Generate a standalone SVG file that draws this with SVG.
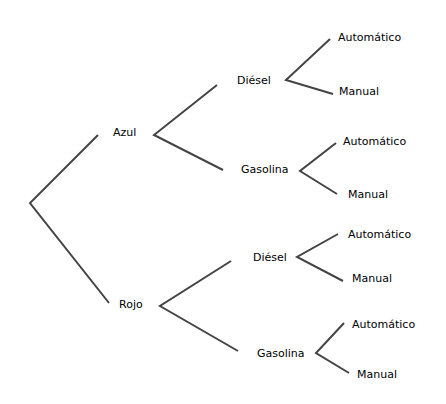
<svg xmlns="http://www.w3.org/2000/svg" width="446" height="404" viewBox="0 0 446 404">
<style>
.e{stroke:#444;stroke-width:2;fill:none;stroke-linecap:butt}
text{font-family:"DejaVu Sans",sans-serif;font-size:11px;fill:#000}
</style>
<rect width="446" height="404" fill="#fff"/>
<g id="connectors">
<path class="e" d="M98,135 L30,203 L109,303"/>
<path class="e" d="M217,85 L154,135 L223,170"/>
<path class="e" d="M231,261 L160,306 L238,351"/>
<path class="e" d="M330,39 L286,80 L333,94"/>
<path class="e" d="M336,143 L300,171 L337,194"/>
<path class="e" d="M338,234 L297,257 L343,281"/>
<path class="e" d="M344,323 L316,353 L349,373"/>
</g>
<g id="azul"><text x="113" y="136">Azul</text></g>
<g id="rojo"><text x="119" y="308">Rojo</text></g>
<g id="azul-diesel"><text x="237" y="84">Diésel</text></g>
<g id="azul-gasolina"><text x="241" y="173">Gasolina</text></g>
<g id="rojo-diesel"><text x="253" y="261">Diésel</text></g>
<g id="rojo-gasolina"><text x="257" y="357">Gasolina</text></g>
<g id="ad-auto"><text x="338" y="41">Automático</text></g>
<g id="ad-man"><text x="339" y="95">Manual</text></g>
<g id="ag-auto"><text x="343" y="145">Automático</text></g>
<g id="ag-man"><text x="348" y="198">Manual</text></g>
<g id="rd-auto"><text x="348" y="238">Automático</text></g>
<g id="rd-man"><text x="352" y="282">Manual</text></g>
<g id="rg-auto"><text x="352" y="328">Automático</text></g>
<g id="rg-man"><text x="357" y="378">Manual</text></g>
</svg>
